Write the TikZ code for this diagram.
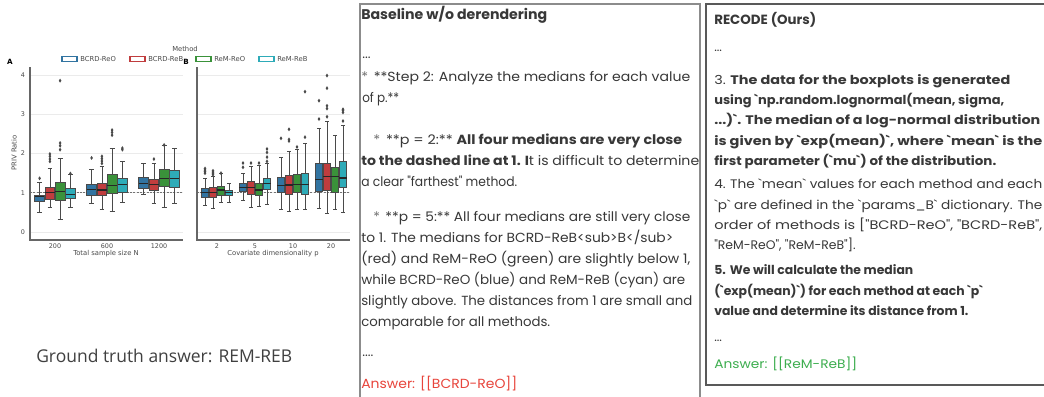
\documentclass[tikz,border=0pt]{standalone}
\usepackage{graphicx}
\usepackage{fontspec}
\newfontfamily\pop{Poppins}
\newfontfamily\dvs{DejaVu Sans}
\newfontfamily\osans{Open Sans}
\definecolor{cb}{HTML}{3274A1}
\definecolor{cr}{HTML}{C03D3E}
\definecolor{cg}{HTML}{3A923A}
\definecolor{cc}{HTML}{2EABB8}
\definecolor{edg}{HTML}{4A4A4A}
\definecolor{txt}{HTML}{383838}
\definecolor{plt}{HTML}{4A4A4A}
\definecolor{ansred}{HTML}{E8453C}
\definecolor{ansgreen}{HTML}{3DAE4F}
\definecolor{gridc}{HTML}{EBEBEB}
\newlength\pxu \setlength\pxu{0.75pt}
\newcommand\fw[2]{\resizebox{#1\pxu}{\height}{#2}}
\def\bw{9.6}
\newcommand\bxp[8]{%
  \draw[whisk] (#1,#3) -- (#1,#4) (#1,#6) -- (#1,#7)
     ({#1-\bw/4},#3) -- ({#1+\bw/4},#3) ({#1-\bw/4},#7) -- ({#1+\bw/4},#7);
  \filldraw[boxe, fill=#2] ({#1-\bw/2},#4) rectangle ({#1+\bw/2},#6);
  \draw[medl] ({#1-\bw/2},#5) -- ({#1+\bw/2},#5);
  \def\fltmp{#8}\ifx\fltmp\empty\else
  \foreach \o in {#8}{\fill[edg] (#1,\o) ++(0,1.5pt) -- ++(1pt,-1.5pt) -- ++(-1pt,-1.5pt) -- ++(-1pt,1.5pt) -- cycle;}\fi
}
\begin{document}
\begin{tikzpicture}[x=0.75pt,y=-0.75pt,
  whisk/.style={draw=edg, line width=0.6pt},
  boxe/.style={draw=edg, line width=0.6pt},
  medl/.style={draw=black!85, line width=0.9pt},
  spine/.style={draw=black!60, line width=0.9pt},
  grid/.style={draw=gridc, line width=0.6pt},
  dash1/.style={draw=black!55, line width=0.6pt, dash pattern=on 1.5pt off 1pt},
  ptxt/.style={font=\dvs\fontsize{4.8pt}{5.5pt}\selectfont, text=plt, inner sep=0},
  plab/.style={font=\dvs\fontsize{5.1pt}{6pt}\selectfont, text=plt, inner sep=0},
  pan/.style={font=\dvs\bfseries\fontsize{5.4pt}{6pt}\selectfont, text=black, inner sep=0},
  leg/.style={line width=0.8pt, fill=white},
  mid/.style={anchor=base west, inner sep=0, text=txt, font=\pop\fontsize{9.9pt}{12pt}\selectfont},
  rgt/.style={anchor=base west, inner sep=0, text=txt, font=\pop\fontsize{9.3pt}{12pt}\selectfont},
  rgb/.style={anchor=base west, inner sep=0, text=txt, font=\pop\bfseries\fontsize{9.3pt}{12pt}\selectfont},
  frm1/.style={draw=black!45, line width=1pt},
  frm2/.style={draw=black!65, line width=1pt}]
\useasboundingbox[fill=white] (0,0) rectangle (1044,396);

% ---------- plot: grid and reference lines ----------
\foreach \v in {0,...,4}{
  \draw[grid] (30,{232-39.2*\v}) -- (183,{232-39.2*\v});
  \draw[grid] (197,{232-39.2*\v}) -- (350,{232-39.2*\v});
  \node[ptxt] (yt\v) at (23,{232-39.2*\v}) {\v};
}
\draw[dash1] (30,192.8) -- (183,192.8);
\draw[dash1] (197,192.8) -- (350,192.8);

% ---------- panel A boxes ----------
\begin{scope}[shift={(0,232)}, y=29.4pt]
\bxp{39.6}{cb}{0.51}{0.78}{0.90}{0.94}{1.27}{1.37}
\bxp{49.9}{cr}{0.62}{0.83}{1.01}{1.14}{1.61}{1.80,1.86,1.93,1.99}
\bxp{60.1}{cg}{0.32}{0.80}{1.03}{1.27}{1.87}{2.10,2.20,2.27,3.86}
\bxp{70.4}{cc}{0.63}{0.86}{0.95}{1.10}{1.47}{1.49}
\bxp{91.6}{cb}{0.72}{0.94}{1.08}{1.22}{1.60}{1.89}
\bxp{101.9}{cr}{0.58}{0.93}{1.07}{1.24}{1.68}{1.75,1.81,1.87,1.93}
\bxp{112.1}{cg}{0.53}{0.99}{1.19}{1.48}{2.12}{2.47,2.54,2.60}
\bxp{122.4}{cc}{0.75}{1.02}{1.22}{1.37}{1.79}{2.10,2.14}
\bxp{143.6}{cb}{0.96}{1.10}{1.23}{1.40}{1.76}{}
\bxp{153.9}{cr}{0.74}{1.07}{1.22}{1.35}{1.74}{1.86}
\bxp{164.1}{cg}{0.63}{1.16}{1.37}{1.59}{2.20}{2.22}
\bxp{174.4}{cc}{0.72}{1.13}{1.36}{1.56}{2.12}{}
\end{scope}

% ---------- panel B boxes ----------
\def\bw{7.6}
\begin{scope}[shift={(0,232)}, y=29.4pt]
\bxp{205}{cb}{0.69}{0.88}{1.01}{1.12}{1.37}{1.50,1.54,1.58,1.62}
\bxp{213}{cr}{0.60}{0.88}{1.01}{1.13}{1.43}{1.46,1.50,1.53,1.56}
\bxp{221}{cg}{0.75}{0.94}{1.07}{1.16}{1.49}{1.50}
\bxp{229}{cc}{0.75}{0.94}{1.00}{1.07}{1.24}{}
\bxp{243}{cb}{0.81}{1.03}{1.13}{1.24}{1.50}{1.65,1.76}
\bxp{251}{cr}{0.63}{0.97}{1.13}{1.29}{1.67}{1.76}
\bxp{259}{cg}{0.66}{0.94}{1.07}{1.24}{1.69}{1.76}
\bxp{267}{cc}{0.70}{1.09}{1.24}{1.36}{1.76}{1.80,1.91,2.03,2.12}
\bxp{281}{cb}{0.57}{1.00}{1.18}{1.40}{1.91}{2.39}
\bxp{289}{cr}{0.53}{0.97}{1.20}{1.44}{2.06}{2.32,2.36,2.62}
\bxp{297}{cg}{0.58}{1.00}{1.21}{1.46}{2.10}{2.17}
\bxp{305}{cc}{0.58}{0.96}{1.21}{1.50}{2.25}{2.42,3.58}
\bxp{319}{cb}{0.60}{1.03}{1.33}{1.76}{2.64}{2.88,3.35}
\bxp{327}{cr}{0.47}{1.05}{1.42}{1.76}{2.83}{2.94,3.15,3.22,3.67,3.99}
\bxp{335}{cg}{0.58}{1.02}{1.42}{1.64}{2.46}{}
\bxp{343}{cc}{0.50}{1.13}{1.38}{1.79}{2.73}{2.83,3.05,3.10,3.13}
\end{scope}

% ---------- spines ----------
\draw[spine] (30,67) -- (30,240) -- (183,240);
\draw[spine] (197,67) -- (197,240) -- (350,240);

% ---------- axis texts ----------
\node[ptxt] (xa1) at (55,246) {200};
\node[ptxt] (xa2) at (107,246) {600};
\node[ptxt] (xa3) at (159,246) {1200};
\node[ptxt] (xb1) at (217,246) {2};
\node[ptxt] (xb2) at (255,246) {5};
\node[ptxt] (xb3) at (293,246) {10};
\node[ptxt] (xb4) at (331,246) {20};
\node[plab] (xta) at (106,254) {Total sample size N};
\node[plab] (xtb) at (273,254) {Covariate dimensionality p};
\node[plab, rotate=90] (yta) at (14,153) {PRIV Ratio};
\node[pan] (pA) at (10,62) {A};
\node[pan] (pB) at (186,62) {B};

% ---------- legend ----------
\node[plab] (legt) at (185,49) {Method};
\draw[leg, draw=cb] (62,56.5) rectangle (77,61.5);
\node[plab, anchor=west] (l1) at (80,59) {BCRD-ReO};
\draw[leg, draw=cr] (130,56.5) rectangle (145,61.5);
\node[plab, anchor=west] (l2) at (148,59) {BCRD-ReB};
\draw[leg, draw=cg] (196,56.5) rectangle (211,61.5);
\node[plab, anchor=west] (l3) at (214,59) {ReM-ReO};
\draw[leg, draw=cc] (259,56.5) rectangle (274,61.5);
\node[plab, anchor=west] (l4) at (277,59) {ReM-ReB};

% ---------- ground truth ----------
\node[anchor=base west, inner sep=0, text=black!75, font=\osans\fontsize{13.2pt}{15pt}\selectfont] (gt) at (36,362) {\fw{256}{Ground truth answer: REM-REB}};

% ---------- middle panel ----------
\draw[frm1] (360,4) rectangle (700,402);
\node[mid, font=\pop\bfseries\fontsize{10.5pt}{12pt}\selectfont] (m0) at (361,19) {\fw{186}{Baseline w/o derendering}};
\node[mid] (m1) at (362,58) {...};
\node[mid] (m2) at (361,81.5) {\fw{329}{\textcolor{black!55}{*}\hspace{4pt}**Step 2: Analyze the medians for each value}};
\node[mid] (m3) at (362,102.5) {\fw{37}{of p.**}};
\node[mid] (m4) at (373,144.5) {\fw{309}{\textcolor{black!55}{*}\hspace{4pt}**p = 2:** \textbf{All four medians are very close}}};
\node[mid] (m5) at (361,165.5) {\fw{338}{\textbf{to the dashed line at 1. I}t is difficult to determine}};
\node[mid] (m6) at (361,186.5) {\fw{156}{a clear "farthest" method.}};
\node[mid] (m7) at (373,221.5) {\fw{317}{\textcolor{black!55}{*}\hspace{4pt}**p = 5:** All four medians are still very close}};
\node[mid] (m8) at (361,242.5) {\fw{312}{to 1. The medians for BCRD-ReB<sub>B</sub>}};
\node[mid] (m9) at (361,263.5) {\fw{329}{(red) and ReM-ReO (green) are slightly below 1,}};
\node[mid] (m10) at (361,284.5) {\fw{324}{while BCRD-ReO (blue) and ReM-ReB (cyan) are}};
\node[mid] (m11) at (361,305.5) {\fw{331}{slightly above. The distances from 1 are small and}};
\node[mid] (m12) at (361,326.5) {\fw{189}{comparable for all methods.}};
\node[mid] (m13) at (362,356) {....};
\node[mid, text=ansred] (m14) at (361,388.5) {\fw{156}{Answer: [[BCRD-ReO]]}};

% ---------- right panel ----------
\draw[frm2] (706,4) rectangle (1050,385);
\node[rgt, font=\pop\bfseries\fontsize{10pt}{12pt}\selectfont] (r0) at (714,24) {\fw{102}{RECODE (Ours)}};
\node[rgt] (r1) at (714,51) {...};
\node[rgt] (r2) at (714,84) {\fw{296}{3.\hspace{3pt}\textbf{The data for the boxplots is generated}}};
\node[rgb] (r3) at (714,104) {\fw{290}{using `np.random.lognormal(mean, sigma,}};
\node[rgb] (r4) at (714,124.5) {\fw{326}{...)`. The median of a log-normal distribution}};
\node[rgb] (r5) at (714,145) {\fw{328}{is given by `exp(mean)`, where `mean` is the}};
\node[rgb] (r6) at (714,165) {\fw{282}{first parameter (`mu`) of the distribution.}};
\node[rgt] (r7) at (714,188.5) {\fw{328}{4.\hspace{3pt}The `mean` values for each method and each}};
\node[rgt] (r8) at (714,209) {\fw{328}{`p` are defined in the `params\_B` dictionary. The}};
\node[rgt] (r9) at (714,229) {\fw{328}{order of methods is ["BCRD-ReO", "BCRD-ReB",}};
\node[rgt] (r10) at (714,249) {"ReM-ReO", "ReM-ReB"].};
\node[rgb] (r11) at (714,274.5) {\fw{199}{5.\hspace{3pt}We will calculate the median}};
\node[rgb] (r12) at (714,295) {(`exp(mean)`) for each method at each `p`};
\node[rgb] (r13) at (714,315) {value and determine its distance from 1.};
\node[rgt] (r14) at (714,341) {...};
\node[rgt, text=ansgreen] (r15) at (714,368.5) {\fw{143}{Answer: [[ReM-ReB]]}};
\end{tikzpicture}
\end{document}
